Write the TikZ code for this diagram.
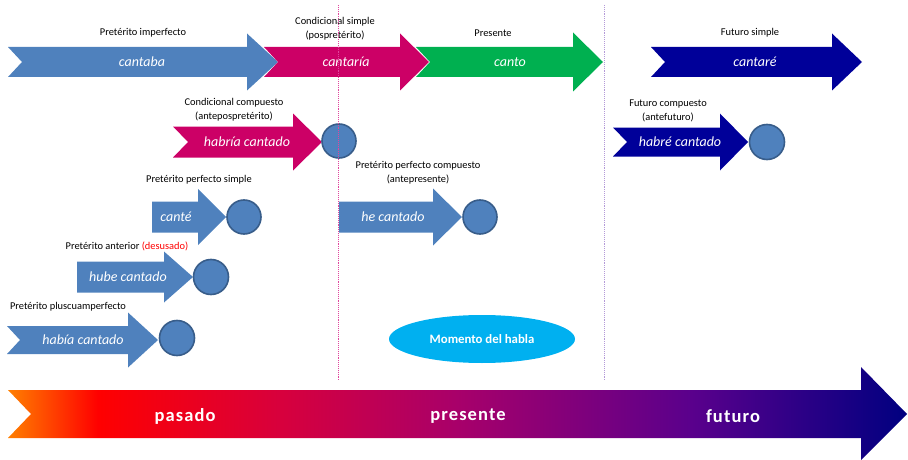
\documentclass[tikz,border=0pt]{standalone}
\usepackage{fontspec}
\setmainfont{Carlito}
\usetikzlibrary{shapes.geometric}

\definecolor{tenseblue}{HTML}{4F81BD}
\definecolor{tensemagenta}{HTML}{CC0066}
\definecolor{tensegreen}{HTML}{00B050}
\definecolor{tensenavy}{HTML}{000099}
\definecolor{dotborder}{HTML}{385D8A}
\definecolor{speechcyan}{HTML}{00B0F0}
\definecolor{nowline}{HTML}{E0479E}
\definecolor{laterline}{HTML}{B49AD8}
\definecolor{barorange}{HTML}{FF7F00}
\definecolor{barred}{HTML}{FF0000}
\definecolor{barcrimson}{HTML}{D8003C}
\definecolor{barmagenta}{HTML}{A8006A}
\definecolor{barpurple}{HTML}{5A008C}
\definecolor{barnavy}{HTML}{000080}

\pgfdeclarehorizontalshading{timebar}{100bp}{color(0bp)=(barorange); color(25bp)=(barorange);
  color(30bp)=(barred); color(40bp)=(barcrimson); color(50bp)=(barmagenta);
  color(63bp)=(barpurple); color(75bp)=(barnavy); color(100bp)=(barnavy)}

\tikzset{
  tenselabel/.style={font=\fontsize{10.4}{14}\selectfont, align=center, inner sep=0pt},
  formtext/.style={text=white, font=\fontsize{14}{16}\selectfont\itshape, inner sep=0pt},
  refdot/.style={circle, draw=dotborder, line width=1.6pt, fill=tenseblue, inner sep=0pt},
  erastext/.style={text=white, font=\fontsize{18.5}{22}\selectfont\bfseries\addfontfeatures{LetterSpace=6}, inner sep=0pt}
}

\begin{document}
\begin{tikzpicture}[x=1pt,y=-1pt]
		\useasboundingbox (0,0) rectangle (908,460);
		% % Time bar
		 	\shade[shading=timebar] (8,390) -- (861,390) -- (861,367) -- (907,414) -- (861,460)
		 		-- (861,438) -- (8,438) -- (31,414) -- cycle;
		 	\node[erastext] (pasado) at (185,416) {pasado};
		 	\node[erastext] (presente) at (468,416) {presente};
		 	\node[erastext] (futuro) at (733,416) {futuro};
		% % Moment of speech
		 	\node[ellipse, fill=speechcyan, minimum width=186pt, minimum height=48pt, text=white,
		 		font=\fontsize{12.8}{15}\selectfont\bfseries] (habla) at (482,339) {Momento del habla};
		% % Tense arrows: name/tail/notch/head/tip/y/shaft/headhalf/colour/textx/form
		 	\foreach \nm/\tl/\nt/\hd/\tp/\y/\s/\h/\col/\tx/\word in {
  		 		imperf/8/14/247/278/62/15/28.5/tenseblue/142/cantaba,
  		 		condsimple/264/14/400/429/62/15/28.5/tensemagenta/346/cantaría,
  		 		pres/416/14/573/603/62/15/29.5/tensegreen/510/canto,
  		 		futsimple/651/14/832/862/62/15/28.5/tensenavy/755/cantaré,
  		 		condcomp/173/15/293/322/142/15.5/28.5/tensemagenta/247/habría cantado,
  		 		perfsimple/152/0/198/226/217/15.5/28/tenseblue/176/canté,
  		 		perfcomp/339/0/433/462/217/15.5/28.5/tenseblue/393/he cantado,
  		 		anterior/77/0/164/193/277/15.5/25.5/tenseblue/128/hube cantado,
  		 		plusc/7/13/128/158/340/14/27.5/tenseblue/83/había cantado,
  		 		futcomp/613/14/720/748/142/14.5/28.5/tensenavy/680/habré cantado
		 	}{
  		 		\fill[\col] (\tl,\y-\s) -- (\hd,\y-\s) -- (\hd,\y-\h) -- (\tp,\y) -- (\hd,\y+\h)
  		 			-- (\hd,\y+\s) -- (\tl,\y+\s) -- (\tl+\nt,\y) -- cycle;
  		 		\node[formtext] (\nm) at (\tx,\y) {\word};
		 	}
		% % Reference points
		 	\foreach \nm/\x/\y/\d in {
  		 		dcondcomp/339/141/34,
  		 		dperfsimple/244/217/34,
  		 		dperfcomp/480/217/34,
  		 		danterior/211/277/35,
  		 		dplusc/177/338/35,
  		 		dfutcomp/767/142/35
		 	}{
  		 		\node[refdot, minimum size=\d pt] (\nm) at (\x,\y) {};
		 	}
		% % Tense names
		 	\node[tenselabel] (limperf) at (143,33) {Pretérito imperfecto};
		 	\node[tenselabel] (lcondsimple) at (335,29) {Condicional simple\\(pospretérito)};
		 	\node[tenselabel] (lpres) at (493,33) {Presente};
		 	\node[tenselabel] (lfutsimple) at (750,33) {Futuro simple};
		 	\node[tenselabel] (lcondcomp) at (234,110) {Condicional compuesto\\(antepospretérito)};
		 	\node[tenselabel] (lperfsimple) at (199,180) {Pretérito perfecto simple};
		 	\node[tenselabel] (lperfcomp) at (418,173) {Pretérito perfecto compuesto\\(antepresente)};
		 	\node[tenselabel] (lanterior) at (127,246) {Pretérito anterior \textcolor{red}{(desusado)}};
		 	\node[tenselabel] (lplusc) at (68,307) {Pretérito pluscuamperfecto};
		 	\node[tenselabel] (lfutcomp) at (668,111) {Futuro compuesto\\(antefuturo)};
		% % Now and future boundaries
		 	\coordinate (nowtop) at (338,5);
		 	\coordinate (nowfoot) at (338,381);
		 	\coordinate (latertop) at (604,5);
		 	\coordinate (laterfoot) at (604,381);
		 	\draw[nowline, densely dotted, line width=0.9pt] (nowtop) -- (nowfoot);
		 	\draw[laterline, densely dotted, line width=0.9pt] (latertop) -- (laterfoot);
\end{tikzpicture}
\end{document}
